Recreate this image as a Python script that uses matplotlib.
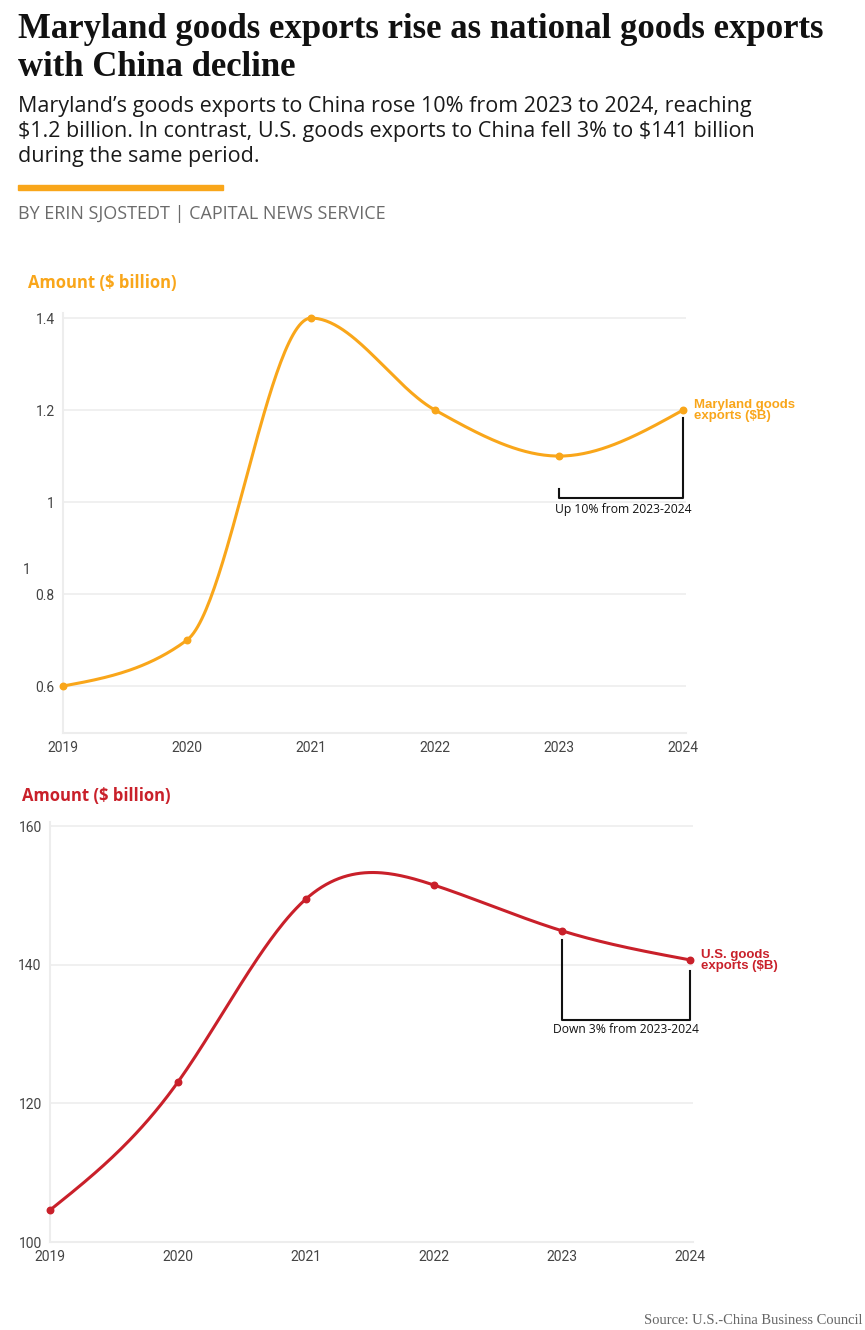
import numpy as np
import matplotlib.pyplot as plt

plt.rcParams['text.parse_math'] = False  # "$" in titles is literal text

# ---- data ----
years = [2019, 2020, 2021, 2022, 2023, 2024]
md_exports = [0.6, 0.7, 1.4, 1.2, 1.1, 1.2]          # Maryland goods exports ($B)
us_exports = [104.6, 123.1, 149.5, 151.5, 144.9, 140.7]  # U.S. goods exports ($B)
md_ticks = [0.6, 0.8, 1, 1.2, 1.4]
md_tick_labels = ['0.6', '0.8', '1', '1.2', '1.4']
us_ticks = [100, 120, 140, 160]

ORANGE = '#F9A61A'
RED = '#C9202A'
GRID = '#EDEDED'
TICK = '#444444'

W, H = 865, 1330


def natural_spline(x, y, n=300):
    """natural cubic spline through the points"""
    x = np.asarray(x, float); y = np.asarray(y, float)
    k = len(x)
    h = np.diff(x)
    A = np.zeros((k, k)); b = np.zeros(k)
    A[0, 0] = A[-1, -1] = 1
    for i in range(1, k - 1):
        A[i, i - 1] = h[i - 1]
        A[i, i] = 2 * (h[i - 1] + h[i])
        A[i, i + 1] = h[i]
        b[i] = 6 * ((y[i + 1] - y[i]) / h[i] - (y[i] - y[i - 1]) / h[i - 1])
    M = np.linalg.solve(A, b)
    xs = np.linspace(x[0], x[-1], n)
    idx = np.clip(np.searchsorted(x, xs) - 1, 0, k - 2)
    x0, x1 = x[idx], x[idx + 1]
    hh = x1 - x0
    t0, t1 = x1 - xs, xs - x0
    ys = (M[idx] * t0**3 + M[idx + 1] * t1**3) / (6 * hh) \
        + (y[idx] / hh - M[idx] * hh / 6) * t0 \
        + (y[idx + 1] / hh - M[idx + 1] * hh / 6) * t1
    return xs, ys


def monotone_spline(x, y, n=300):
    """monotone cubic (d3 curveMonotoneX style)"""
    x = np.asarray(x, float); y = np.asarray(y, float)
    k = len(x)
    h = np.diff(x)
    s = np.diff(y) / h
    m = np.zeros(k)
    for i in range(1, k - 1):
        p = (s[i - 1] * h[i] + s[i] * h[i - 1]) / (h[i - 1] + h[i])
        m[i] = (np.sign(s[i - 1]) + np.sign(s[i])) * min(abs(s[i - 1]), abs(s[i]), 0.5 * abs(p))
    m[0] = (3 * s[0] - m[1]) / 2
    m[-1] = (3 * s[-1] - m[-2]) / 2
    xs = np.linspace(x[0], x[-1], n)
    idx = np.clip(np.searchsorted(x, xs) - 1, 0, k - 2)
    hh = h[idx]
    t = (xs - x[idx]) / hh
    h00 = 2 * t**3 - 3 * t**2 + 1
    h10 = t**3 - 2 * t**2 + t
    h01 = -2 * t**3 + 3 * t**2
    h11 = t**3 - t**2
    ys = h00 * y[idx] + h10 * hh * m[idx] + h01 * y[idx + 1] + h11 * hh * m[idx + 1]
    return xs, ys


def px_axes(fig, left, top, right, bottom):
    return fig.add_axes([left / W, 1 - bottom / H, (right - left) / W, (bottom - top) / H])


def style(ax):
    for s in ['top', 'right']:
        ax.spines[s].set_visible(False)
    for s in ['left', 'bottom']:
        ax.spines[s].set_color(GRID)
        ax.spines[s].set_linewidth(1.5)
    ax.grid(axis='y', color=GRID, lw=1.2)
    ax.set_axisbelow(True)
    ax.tick_params(axis='both', length=0, labelsize=10, labelcolor=TICK, pad=6)
    ax.set_xticks(years)
    for lab in ax.get_xticklabels() + ax.get_yticklabels():
        lab.set_fontfamily('Roboto')


fig = plt.figure(figsize=(W / 100, H / 100), dpi=100)

# ---- header ----
fig.text(18 / W, 1 - 13 / H, 'Maryland goods exports rise as national goods exports\nwith China decline',
         ha='left', va='top', fontsize=25, fontweight='bold', family='Liberation Serif',
         linespacing=1.22, color='#111111')
fig.text(18 / W, 1 - 96 / H,
         'Maryland\u2019s goods exports to China rose 10% from 2023 to 2024, reaching\n'
         '$1.2 billion. In contrast, U.S. goods exports to China fell 3% to $141 billion\n'
         'during the same period.',
         ha='left', va='top', fontsize=15.5, family='Open Sans', linespacing=1.26, color='#1a1a1a')
fig.patches.append(plt.Rectangle((18 / W, 1 - 190 / H), 205 / W, 5 / H,
                                 transform=fig.transFigure, color=ORANGE))
fig.text(18 / W, 1 - 214 / H, 'BY ERIN SJOSTEDT | CAPITAL NEWS SERVICE', ha='left', va='center',
         fontsize=13, family='Open Sans', color='#6b6b6b')

# ---- Maryland chart ----
ax1 = px_axes(fig, 63, 313, 686, 733)
xs, ys = monotone_spline(years, md_exports)
ax1.plot(xs, ys, color=ORANGE, lw=2.2, clip_on=False, zorder=3)
ax1.scatter(years, md_exports, s=22, color=ORANGE, zorder=4, clip_on=False)
ax1.set_xlim(2019, 2024.024)
ax1.set_ylim(0.498, 1.411)
ax1.set_yticks(md_ticks)
ax1.set_yticklabels(md_tick_labels)
style(ax1)
fig.text(28 / W, 1 - 283 / H, 'Amount ($ billion)', ha='left', va='center', fontsize=12,
         fontweight='bold', family='Open Sans', color=ORANGE)
fig.text(27 / W, 1 - 570 / H, '1', ha='center', va='center', fontsize=10, family='Roboto', color=TICK)

# bracket 2023-2024
ax1.plot([2023, 2023, 2024, 2024], [md_exports[4] - 0.072, 1.009, 1.009, md_exports[5] - 0.017],
         color='#111111', lw=1.5, clip_on=False, zorder=2)
ax1.text(2023.52, 0.983, 'Up 10% from 2023-2024', ha='center', va='center', fontsize=8.7,
         family='Open Sans', color='#111111')
ax1.text(2024.09, md_exports[5], 'Maryland goods\nexports ($B)', ha='left', va='center',
         fontsize=9.5, fontweight='bold', family='Liberation Sans', color=ORANGE,
         linespacing=0.9)

# ---- U.S. chart ----
ax2 = px_axes(fig, 50, 822, 693, 1242)
xs, ys = natural_spline(years, us_exports)
ax2.plot(xs, ys, color=RED, lw=2.2, clip_on=False, zorder=3)
ax2.scatter(years, us_exports, s=22, color=RED, zorder=4, clip_on=False)
ax2.set_xlim(2019, 2024.023)
ax2.set_ylim(100, 160.6)
ax2.set_yticks(us_ticks)
style(ax2)
fig.text(22 / W, 1 - 796 / H, 'Amount ($ billion)', ha='left', va='center', fontsize=12,
         fontweight='bold', family='Open Sans', color=RED)

ax2.plot([2023, 2023, 2024, 2024], [143.6, 132.0, 132.0, 139.1],
         color='#111111', lw=1.5, clip_on=False, zorder=2)
ax2.text(2023.5, 130.6, 'Down 3% from 2023-2024', ha='center', va='center', fontsize=8.7,
         family='Open Sans', color='#111111')
ax2.text(2024.085, us_exports[5] - 0.1, 'U.S. goods\nexports ($B)', ha='left', va='center',
         fontsize=9.5, fontweight='bold', family='Liberation Sans', color=RED,
         linespacing=0.9)

fig.text(862 / W, 1 - 1320 / H, 'Source: U.S.-China Business Council', ha='right', va='center',
         fontsize=10.5, family='Liberation Serif', color='#666666')

plt.savefig('out.png', dpi=100)
